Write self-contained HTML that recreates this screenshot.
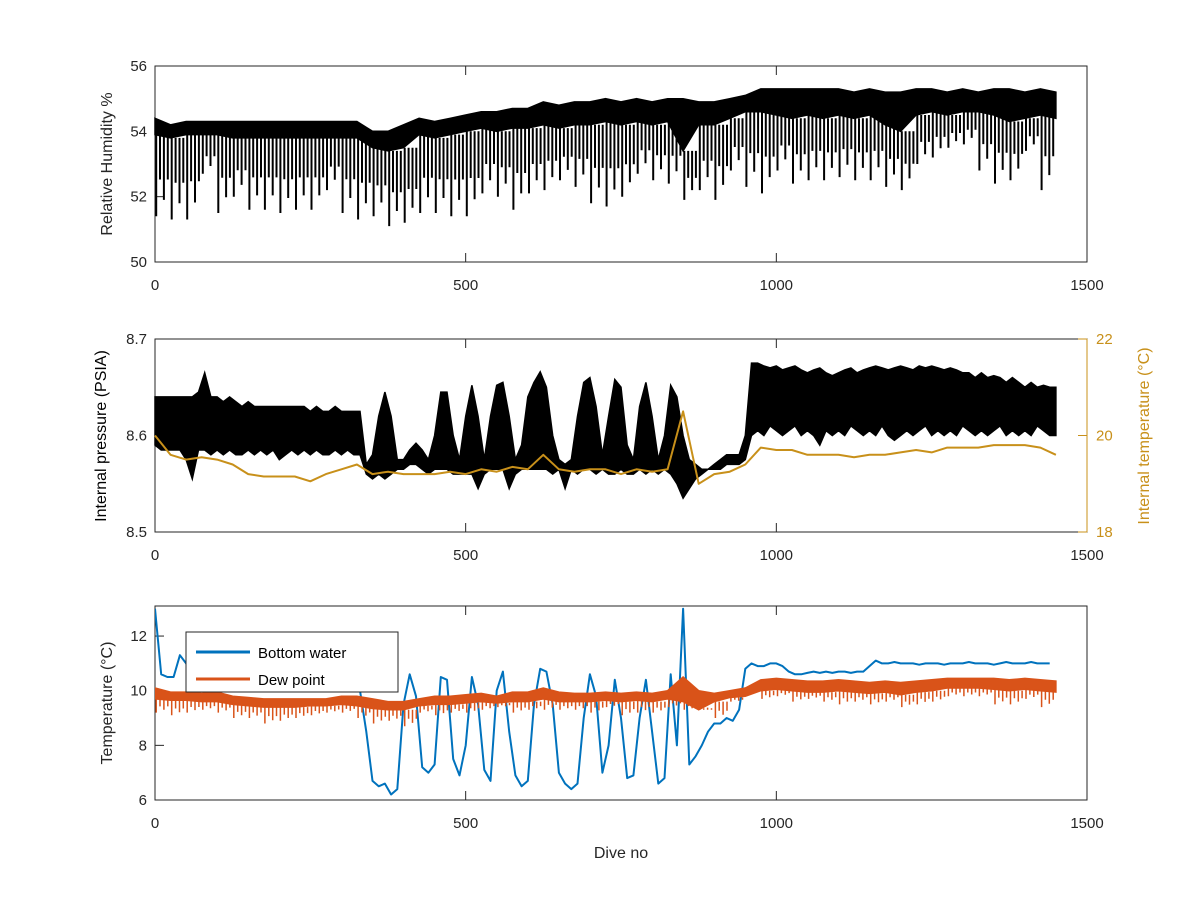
<!DOCTYPE html>
<html><head><meta charset="utf-8"><style>
body{margin:0;background:#fff;}
svg{display:block;font-family:"Liberation Sans",Arial,sans-serif;}
</style></head><body>
<svg id="fig" width="1200" height="900" viewBox="0 0 1200 900" xmlns="http://www.w3.org/2000/svg">
<rect width="1200" height="900" fill="#fff"/>
</svg>
<script>
// ---- shared x ----
const xTicks = [0, 500, 1000, 1500];
// ---- panel 1: relative humidity (25-dive bins) ----
const hDives = [0,25,50,75,100,125,150,175,200,225,250,275,300,325,350,375,400,425,450,475,500,525,550,575,600,625,650,675,700,725,750,775,800,825,850,875,900,925,950,975,1000,1025,1050,1075,1100,1125,1150,1175,1200,1225,1250,1275,1300,1325,1350,1375,1400,1425,1450];
const hTop = [54.4,54.2,54.3,54.3,54.3,54.3,54.3,54.3,54.3,54.3,54.3,54.3,54.3,54.3,54.0,54.0,54.2,54.4,54.3,54.4,54.5,54.6,54.6,54.7,54.7,54.9,54.8,54.9,54.9,55.0,54.9,55.0,54.9,55.0,55.0,54.9,54.9,55.0,55.1,55.3,55.3,55.3,55.3,55.3,55.3,55.2,55.3,55.2,55.2,55.3,55.3,55.2,55.3,55.2,55.3,55.3,55.2,55.3,55.2];
const hBand = [53.9,53.8,53.9,53.9,53.9,53.8,53.8,53.8,53.8,53.8,53.8,53.8,53.8,53.8,53.5,53.4,53.5,53.9,53.8,53.9,54.0,54.1,54.0,54.1,54.1,54.2,54.1,54.2,54.2,54.3,54.2,54.3,54.2,54.3,53.4,54.2,54.2,54.4,54.6,54.6,54.5,54.4,54.5,54.4,54.5,54.4,54.5,54.2,54.0,54.5,54.6,54.5,54.6,54.6,54.5,54.3,54.4,54.5,54.4];
const hLow = [51.4,51.3,51.3,52.7,51.5,52.0,51.6,51.6,51.5,51.6,51.6,52.2,51.5,51.3,51.4,51.1,51.2,51.5,51.5,51.4,51.4,52.1,52.0,51.6,52.1,52.2,52.5,52.3,51.8,51.7,52.0,52.7,52.5,52.4,51.9,52.2,51.9,52.8,52.3,52.1,52.8,52.4,52.5,52.5,52.6,52.5,52.5,52.3,52.2,53.0,53.2,53.5,53.6,52.8,52.4,52.5,53.4,52.2,53.6];
const hYTicks = [50, 52, 54, 56];
// ---- panel 2: internal pressure (10-dive bins) ----
const pDives = Array.from({length:146},(_, i)=>i*10);
const pTop = [8.64,8.64,8.64,8.64,8.64,8.64,8.64,8.645,8.665,8.64,8.64,8.635,8.64,8.635,8.63,8.635,8.63,8.63,8.63,8.63,8.63,8.63,8.63,8.63,8.63,8.625,8.63,8.625,8.625,8.63,8.625,8.625,8.625,8.625,
8.57,8.58,8.62,8.645,8.62,8.575,8.575,8.585,8.592,8.585,8.575,8.60,8.645,8.645,8.60,8.575,8.62,8.652,8.62,8.575,8.62,8.652,8.655,8.62,8.575,8.59,8.64,8.655,8.666,8.65,8.60,8.575,8.57,8.575,8.62,8.655,8.66,8.63,8.58,8.62,8.658,8.65,8.59,8.575,8.63,8.655,8.62,8.575,8.60,8.652,8.64,8.60,8.575,8.57,8.565,8.565,8.57,8.575,8.58,8.58,8.58,8.60,
8.675,8.675,8.672,8.670,8.672,8.668,8.670,8.672,8.668,8.665,8.668,8.670,8.665,8.662,8.665,8.668,8.670,8.665,8.668,8.670,8.672,8.670,8.668,8.670,8.672,8.670,8.668,8.672,8.670,8.672,8.670,8.668,8.670,8.668,8.665,8.665,8.660,8.665,8.660,8.662,8.660,8.655,8.660,8.655,8.650,8.655,8.650,8.652,8.650,8.650];
const pLow = [8.59,8.585,8.585,8.585,8.585,8.575,8.555,8.585,8.585,8.58,8.585,8.58,8.585,8.58,8.58,8.585,8.58,8.585,8.58,8.585,8.575,8.58,8.585,8.58,8.585,8.58,8.585,8.58,8.58,8.585,8.58,8.585,8.58,8.58,
8.56,8.555,8.56,8.555,8.56,8.565,8.565,8.57,8.57,8.565,8.56,8.565,8.565,8.565,8.56,8.56,8.56,8.56,8.545,8.56,8.565,8.565,8.565,8.545,8.56,8.565,8.565,8.565,8.565,8.565,8.56,8.565,8.545,8.565,8.56,8.565,8.565,8.56,8.565,8.56,8.56,8.565,8.56,8.56,8.565,8.56,8.565,8.56,8.565,8.56,8.55,8.535,8.545,8.555,8.56,8.565,8.565,8.565,8.57,8.57,8.57,8.575,
8.60,8.605,8.60,8.61,8.605,8.60,8.605,8.61,8.60,8.605,8.60,8.59,8.605,8.60,8.605,8.60,8.61,8.605,8.60,8.605,8.60,8.61,8.60,8.595,8.60,8.605,8.60,8.605,8.61,8.60,8.605,8.60,8.605,8.60,8.61,8.605,8.60,8.605,8.60,8.605,8.61,8.60,8.605,8.60,8.605,8.60,8.61,8.605,8.60,8.60];
const pYTicks = [8.5, 8.6, 8.7];
// internal temperature (25-dive bins, right axis)
const tInt = [20.0,19.6,19.5,19.55,19.5,19.4,19.2,19.15,19.15,19.15,19.05,19.2,19.3,19.4,19.2,19.25,19.2,19.2,19.2,19.25,19.2,19.3,19.25,19.35,19.3,19.6,19.3,19.25,19.3,19.3,19.2,19.3,19.25,19.3,20.5,19.0,19.2,19.25,19.4,19.75,19.7,19.7,19.6,19.6,19.6,19.55,19.6,19.6,19.65,19.7,19.65,19.75,19.75,19.75,19.8,19.8,19.8,19.75,19.6];
const tYTicks = [18, 20, 22];
// ---- panel 3: temperatures ----
const bw = [13.0,10.6,10.5,10.5,11.3,11.0,10.5,10.2,10.0,10.0,10.0,10.1,10.0,10.0,10.1,10.0,10.0,10.0,10.1,10.0,10.0,10.0,10.1,10.0,10.0,10.0,10.0,10.1,10.0,10.0,10.0,10.0,10.0,10.0,
8.5,6.7,6.5,6.6,6.2,6.4,9.5,10.6,9.8,7.2,7.0,7.3,10.5,10.4,7.5,6.9,8.0,10.5,9.5,7.1,6.7,10.0,10.7,8.5,6.9,6.5,6.7,9.5,10.8,10.7,9.5,7.0,6.6,6.4,6.6,9.0,10.6,9.8,7.0,8.0,10.4,9.0,6.8,6.9,9.0,10.4,8.5,6.6,6.8,10.6,8.0,13.0,7.3,7.6,8.0,8.5,8.8,8.8,9.0,8.9,9.3,
10.8,11.0,10.9,10.9,11.0,11.0,10.9,10.7,10.6,10.6,10.65,10.7,10.65,10.7,10.65,10.7,10.7,10.65,10.7,10.7,10.9,11.1,11.0,11.0,11.05,11.0,11.0,11.0,10.95,11.0,11.0,11.0,10.95,11.0,11.0,11.0,11.05,11.0,11.0,11.0,10.95,11.0,11.05,11.0,11.0,11.0,11.05,11.0,11.0,11.0];
const dTop = [10.1,9.95,9.95,9.9,9.95,9.8,9.75,9.7,9.7,9.7,9.7,9.7,9.8,9.8,9.7,9.6,9.6,9.7,9.8,9.8,9.85,9.9,9.8,9.95,9.95,10.1,9.95,9.9,9.9,9.95,9.9,9.95,9.9,10.0,10.5,10.0,9.9,10.0,10.1,10.4,10.45,10.4,10.35,10.35,10.4,10.35,10.3,10.35,10.3,10.35,10.4,10.45,10.45,10.45,10.45,10.4,10.45,10.4,10.35];
const dMid = [9.7,9.65,9.65,9.6,9.6,9.5,9.45,9.4,9.4,9.4,9.45,9.45,9.5,9.45,9.35,9.3,9.3,9.45,9.5,9.5,9.55,9.6,9.55,9.6,9.6,9.7,9.6,9.6,9.6,9.65,9.6,9.65,9.6,9.7,9.6,9.3,9.6,9.75,9.8,10.0,10.05,10.0,9.95,9.95,10.0,9.95,9.9,9.95,9.85,9.95,10.0,10.1,10.1,10.1,10.05,10.0,10.05,10.0,9.95];
const dLow = [9.2,9.1,9.2,9.3,9.2,9.0,9.0,8.8,8.9,9.0,9.1,9.2,9.2,9.0,8.8,8.9,8.7,9.2,9.1,9.2,9.2,9.3,9.4,9.2,9.3,9.3,9.3,9.3,9.2,9.4,9.1,9.2,9.2,9.4,9.3,9.4,9.0,9.6,9.8,9.7,9.8,9.6,9.7,9.6,9.5,9.6,9.5,9.6,9.4,9.5,9.6,9.8,9.8,9.8,9.5,9.5,9.7,9.4,9.5];
const tempYTicks = [6, 8, 10, 12];

const NS = "http://www.w3.org/2000/svg";
const svg = document.getElementById('fig');
const X0 = 155, X1 = 1087;
function xS(d){ return X0 + d / 1500 * (X1 - X0); }
function mk(tag, parent){ const e = document.createElementNS(NS, tag); parent.appendChild(e); return e; }
function yScale(top, bot, vmin, vmax){ return v => bot - (v - vmin) / (vmax - vmin) * (bot - top); }

const AX = '#262626';
function axes(name, top, bot, ys, yTicks, yfmt){
  const g = mk('g', svg);
  
  
  const box = mk('rect', g);
  
  
  box.setAttribute('x', X0); box.setAttribute('y', top); box.setAttribute('width', X1 - X0); box.setAttribute('height', bot - top);
  box.setAttribute('fill', 'none'); box.setAttribute('stroke', AX); box.setAttribute('stroke-width', '1');
  xTicks.forEach(t => {
    const x = xS(t);
    const l1 = mk('line', g); l1.setAttribute('x1', x); l1.setAttribute('x2', x); l1.setAttribute('y1', bot); l1.setAttribute('y2', bot - 9); l1.setAttribute('stroke', AX);
    const l2 = mk('line', g); l2.setAttribute('x1', x); l2.setAttribute('x2', x); l2.setAttribute('y1', top); l2.setAttribute('y2', top + 9); l2.setAttribute('stroke', AX);
    const tx = mk('text', g);
    
    
    tx.setAttribute('x', x); tx.setAttribute('y', bot + 28); tx.setAttribute('text-anchor', 'middle'); tx.setAttribute('font-size', '15'); tx.setAttribute('fill', AX);
    tx.textContent = t;
  });
  yTicks.forEach(t => {
    const y = ys(t);
    const l = mk('line', g); l.setAttribute('x1', X0); l.setAttribute('x2', X0 + 9); l.setAttribute('y1', y); l.setAttribute('y2', y); l.setAttribute('stroke', AX);
    const tx = mk('text', g);
    
    
    tx.setAttribute('x', X0 - 8); tx.setAttribute('y', y + 5); tx.setAttribute('text-anchor', 'end'); tx.setAttribute('font-size', '15'); tx.setAttribute('fill', AX);
    tx.textContent = yfmt(t);
  });
  return g;
}
function ylabel(g, text, x, y, color, name){
  const t = mk('text', g);
  
  
  t.setAttribute('transform', `translate(${x},${y}) rotate(-90)`);
  t.setAttribute('text-anchor', 'middle'); t.setAttribute('font-size', '16'); t.setAttribute('fill', color);
  t.textContent = text;
}
function pts(d, v, ys){ return d.map((dd, i) => xS(dd).toFixed(1) + ',' + ys(v[i]).toFixed(1)); }
function band(g, d, top, low, ys, color, name){
  const p = mk('polygon', g);
  
  
  const a = pts(d, top, ys), b = pts(d, low, ys).reverse();
  p.setAttribute('points', a.concat(b).join(' '));
  p.setAttribute('fill', color); p.setAttribute('stroke', color); p.setAttribute('stroke-width', '1.5');
}
// draws several thin downward spikes per bin from the band edge to the bin's low value
function spikes(g, d, top, low, ys, color, name, w, per){
  const p = mk('path', g);
  
  
  let s = '';
  for (let i = 0; i < d.length - 1; i++){
    const xa = xS(d[i]), xb = xS(d[i + 1]);
    for (let k = 0; k < per; k++){
      const x = xa + (xb - xa) * (k + 0.3) / per;
      const yt = ys(top[i]), yl = ys(low[i]);
      const yk = k === 0 ? yl : yt + (yl - yt) * (k % 2 ? 0.55 : 0.8);
      s += `M${x.toFixed(1)},${yt.toFixed(1)}L${x.toFixed(1)},${yk.toFixed(1)}`;
    }
  }
  p.setAttribute('d', s);
  p.setAttribute('fill', 'none'); p.setAttribute('stroke', color); p.setAttribute('stroke-width', w);
}
function line(g, d, v, ys, color, w, name){
  const p = mk('polyline', g);
  
  
  p.setAttribute('points', pts(d, v, ys).join(' '));
  p.setAttribute('fill', 'none'); p.setAttribute('stroke', color); p.setAttribute('stroke-width', w); p.setAttribute('stroke-linejoin', 'round');
}

// Panel 1
const y1 = yScale(66, 262, 50, 56);
const g1 = axes('humidity-panel', 66, 262, y1, hYTicks, t => t);
band(g1, hDives, hTop, hBand, y1, '#000', 'humidity-band');
spikes(g1, hDives, hBand, hLow, y1, '#000', 'humidity-spikes', 2, 4);
ylabel(g1, 'Relative Humidity %', 112, 164, AX, 'humidity-y-axis-title');

// Panel 2
const y2 = yScale(339, 532, 8.5, 8.7);
const y2r = yScale(339, 532, 18, 22);
const g2 = axes('pressure-panel', 339, 532, y2, pYTicks, t => t.toFixed(1));
band(g2, pDives, pTop, pLow, y2, '#000', 'pressure-series');
line(g2, hDives, tInt, y2r, '#C8901A', 2, 'internal-temperature-series');
const gold = '#C8901A';
const ra = mk('line', g2); ra.setAttribute('x1', X1); ra.setAttribute('x2', X1); ra.setAttribute('y1', 339); ra.setAttribute('y2', 532); ra.setAttribute('stroke', gold);
tYTicks.forEach(t => {
  const y = y2r(t);
  const l = mk('line', g2); l.setAttribute('x1', X1 - 9); l.setAttribute('x2', X1); l.setAttribute('y1', y); l.setAttribute('y2', y); l.setAttribute('stroke', gold);
  const tx = mk('text', g2);
  
  
  tx.setAttribute('x', X1 + 9); tx.setAttribute('y', y + 5); tx.setAttribute('font-size', '15'); tx.setAttribute('fill', gold);
  tx.textContent = t;
});
ylabel(g2, 'Internal pressure (PSIA)', 106, 436, '#000', 'pressure-y-axis-title');
ylabel(g2, 'Internal temperature (°C)', 1149, 436, gold, 'temperature-right-y-axis-title');

// Panel 3
const y3 = yScale(606, 800, 6, 13.1);
const g3 = axes('temperature-panel', 606, 800, y3, tempYTicks, t => t);
const cp = mk('clipPath', svg); cp.setAttribute('id', 'clip3');
const cr = mk('rect', cp); cr.setAttribute('x', X0); cr.setAttribute('y', 606); cr.setAttribute('width', X1 - X0); cr.setAttribute('height', 194);
const gs = mk('g', g3); gs.setAttribute('clip-path', 'url(#clip3)');


line(gs, pDives, bw, y3, '#0072BD', 2, 'bottom-water-series');
band(gs, hDives, dTop, dMid, y3, '#D95319', 'dew-point-band');
spikes(gs, hDives, dMid, dLow, y3, '#D95319', 'dew-point-spikes', 1.5, 4);
ylabel(g3, 'Temperature (°C)', 112, 703, AX, 'temperature-y-axis-title');
const xt = mk('text', g3);


xt.setAttribute('x', 621); xt.setAttribute('y', 858); xt.setAttribute('text-anchor', 'middle'); xt.setAttribute('font-size', '16'); xt.setAttribute('fill', AX);
xt.textContent = 'Dive no';

// Legend
const lg = mk('g', g3);


const lb = mk('rect', lg);
lb.setAttribute('x', 186); lb.setAttribute('y', 632); lb.setAttribute('width', 212); lb.setAttribute('height', 60);
lb.setAttribute('fill', '#fff'); lb.setAttribute('stroke', AX);
[['Bottom water', '#0072BD', 652], ['Dew point', '#D95319', 679]].forEach(e => {
  const le = mk('g', lg);
  
  
  const l = mk('line', le); l.setAttribute('x1', 196); l.setAttribute('x2', 250); l.setAttribute('y1', e[2]); l.setAttribute('y2', e[2]); l.setAttribute('stroke', e[1]); l.setAttribute('stroke-width', '3');
  const t = mk('text', le); t.setAttribute('x', 258); t.setAttribute('y', e[2] + 6); t.setAttribute('font-size', '15'); t.setAttribute('fill', '#000');
  t.textContent = e[0];
});
</script>
</body></html>
